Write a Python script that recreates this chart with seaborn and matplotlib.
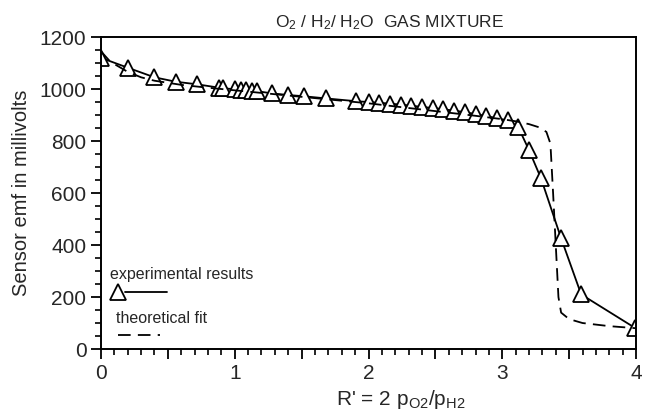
import numpy as np
import pandas as pd
import matplotlib
matplotlib.use('Agg')
import matplotlib.pyplot as plt
from matplotlib.ticker import MultipleLocator, FuncFormatter
import seaborn as sns

# experimental results (R', emf in mV)
exp_r = [0.0, 0.20, 0.40, 0.56, 0.72, 0.885, 0.915, 1.00, 1.05, 1.085, 1.127, 1.164,
         1.28, 1.40, 1.52, 1.68, 1.91, 2.00, 2.08, 2.16, 2.24, 2.32, 2.40, 2.48,
         2.56, 2.64, 2.72, 2.80, 2.88, 2.96, 3.04, 3.12, 3.20, 3.29, 3.44, 3.59, 3.99]
exp_emf = [1120, 1082, 1045, 1028, 1018, 1005, 1003, 999, 997, 995, 993, 992,
           983, 977, 972, 964, 953, 950, 947, 944, 940, 936, 931, 927,
           922, 917, 911, 904, 896, 888, 879, 853, 765, 656, 426, 210, 82]

# theoretical fit
fit_r = [0.0, 0.07, 0.2, 0.3, 0.4, 0.6, 0.8, 1.0, 1.2, 1.5, 2.0, 2.5, 2.8, 3.0,
         3.1, 3.2, 3.28, 3.33, 3.36, 3.38, 3.40, 3.42, 3.44, 3.5, 3.6, 3.8, 4.0]
fit_emf = [1145, 1105, 1066, 1045, 1032, 1016, 1005, 995, 985, 970, 945, 915, 897, 884,
           876, 865, 852, 835, 790, 600, 400, 200, 140, 115, 100, 88, 80]

sns.set_style('ticks')
plt.rcParams['font.family'] = ['Liberation Sans', 'DejaVu Sans']
plt.rcParams['mathtext.default'] = 'regular'

fig = plt.figure(figsize=(6.49, 4.16), dpi=100)
ax = fig.add_axes([0.1556, 0.161, 0.8244, 0.75])

dash = (0, (7, 4))
sns.lineplot(x=exp_r, y=exp_emf, ax=ax, sort=False, color='black', lw=1.3,
             marker='^', markersize=12, markerfacecolor='white',
             markeredgecolor='black', markeredgewidth=1.3)
sns.lineplot(x=fit_r, y=fit_emf, ax=ax, sort=False, color='black', lw=1.3,
             linestyle=dash)

ax.set_xlim(0, 4)
ax.set_ylim(0, 1200)
ax.xaxis.set_major_locator(MultipleLocator(0.5))
ax.xaxis.set_minor_locator(MultipleLocator(0.1))
ax.xaxis.set_major_formatter(FuncFormatter(lambda v, p: f'{v:.0f}' if v == int(v) else ''))
ax.yaxis.set_major_locator(MultipleLocator(200))
ax.yaxis.set_minor_locator(MultipleLocator(50))
ax.tick_params(which='major', length=7, width=1.3, labelsize=15, color='black')
ax.tick_params(which='minor', length=4, width=1.2, color='black')
ax.tick_params(axis='x', which='major', pad=4)
for s in ax.spines.values():
    s.set_linewidth(1.4)
    s.set_color('black')

ax.set_title('O$_2$ / H$_2$/ H$_2$O  GAS MIXTURE', fontsize=12.5, pad=7, x=0.54)
ax.set_ylabel('Sensor emf in millivolts', fontsize=14.5, labelpad=6)
ax.set_xlabel("R' = 2 p$_{O2}$/p$_{H2}$", fontsize=15)
ax.xaxis.set_label_coords(0.56, -0.125)

# hand-drawn style legend inside the axes
ax.text(0.07, 285, 'experimental results', fontsize=11.5, va='center')
ax.plot([0.13], [219], marker='^', markersize=12, mfc='white', mec='black', mew=1.3)
ax.plot([0.18, 0.49], [219, 219], color='black', lw=1.3)
ax.text(0.11, 119, 'theoretical fit', fontsize=11.5, va='center')
ax.plot([0.13, 0.44], [54, 54], color='black', lw=1.3, linestyle=dash)

fig.savefig('out.png', dpi=100)
